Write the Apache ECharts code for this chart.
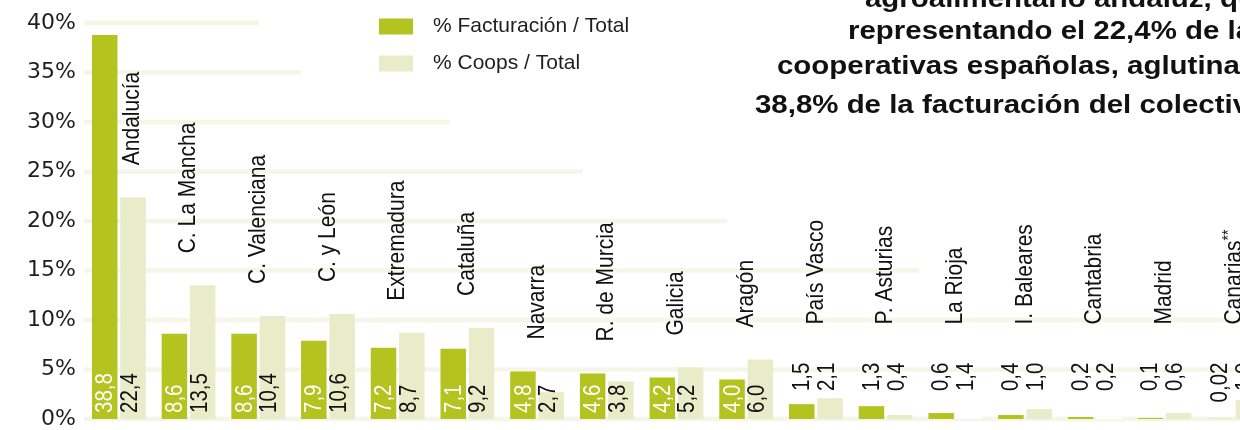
<!DOCTYPE html>
<html>
<head>
<meta charset="utf-8">
<script src="https://cdn.jsdelivr.net/npm/echarts@6/dist/echarts.min.js"></script>
<style>
html,body{margin:0;padding:0;background:#fff;overflow:hidden;width:1240px;height:430px;}
#c{width:1290px;height:430px;}
</style>
</head>
<body>
<div id="c"></div>
<script>
// ---- data ----
const categories = ['Andalucía','C. La Mancha','C. Valenciana','C. y León','Extremadura','Cataluña','Navarra','R. de Murcia','Galicia','Aragón','País Vasco','P. Asturias','La Rioja','I. Baleares','Cantabria','Madrid','Canarias**'];
const facturacion = [38.8,8.6,8.6,7.9,7.2,7.1,4.8,4.6,4.2,4.0,1.5,1.3,0.6,0.4,0.2,0.1,0.02];
const coops = [22.4,13.5,10.4,10.6,8.7,9.2,2.7,3.8,5.2,6.0,2.1,0.4,1.4,1.0,0.2,0.6,1.9];
const yTicks = [0,5,10,15,20,25,30,35,40];
const seriesNames = ['% Facturación / Total','% Coops / Total'];
const noteLines = ['agroalimentario andaluz, que','representando el 22,4% de las','cooperativas españolas, aglutina el','38,8% de la facturación del colectivo.'];

// ---- styling / layout ----
const GREEN = '#b4c31f';
const LIGHT = '#e9ecc9';
const GRIDC = '#f4f6e8';
const FONT = "'Liberation Sans', Arial, Helvetica, sans-serif";
const STRETCH = 1.14;
const GRID_LEFT = 84;

const fmt = v => ((Math.round(v * 10) === v * 10) ? v.toFixed(1) : String(v)).replace('.', ',');

function rotText(x, y, text, align, fill, fs, extra) {
  const style = { text, x: 0, y: 0, align, verticalAlign: 'middle', fill, font: fs + 'px ' + FONT };
  if (extra) Object.assign(style, extra);
  return { type: 'text', x, y, rotation: Math.PI / 2, scaleY: STRETCH, silent: true, style };
}

function renderLabels(params, api) {
  const i = api.value(0), f = api.value(1), c = api.value(2);
  const base = api.coord([i, 0]);
  const cx = base[0], y0 = base[1];
  const yF = api.coord([i, f])[1], yC = api.coord([i, c])[1];
  const children = [];
  let nameBottom, nameX = cx;
  if (f < 2) {
    const yTop = api.coord([i, 5.7])[1];
    children.push(rotText(cx - 13.5, yTop, fmt(f), 'right', '#111', 20.5));
    children.push(rotText(cx + 11.5, yTop, fmt(c), 'right', '#111', 20.5));
    nameBottom = yTop - 38;
  } else {
    children.push(rotText(cx - 13, y0 - 6, fmt(f), 'left', '#fff', 20.5));
    children.push(rotText(cx + 11.5, y0 - 6, fmt(c), 'left', '#111', 20.5));
    const beside = f > c + 10;
    const refY = beside ? yC : Math.min(yF, yC);
    nameBottom = refY - 32;
    if (beside) nameX = cx + 14;
  }
  const name = categories[params.dataIndex];
  if (name.endsWith('**')) {
    children.push(rotText(nameX, nameBottom, '{a|' + name.slice(0, -2) + '}{s|**}', 'left', '#111', 21, {
      rich: { a: { fontSize: 21, fontFamily: FONT, fill: '#111' }, s: { fontSize: 14, fontFamily: FONT, fill: '#111', verticalAlign: 'top', padding: [0, 0, 8, 0] } }
    }));
  } else {
    children.push(rotText(nameX, nameBottom, name, 'left', '#111', 21));
  }
  return { type: 'group', children };
}

const chart = echarts.init(document.getElementById('c'), null, { renderer: 'canvas' });

const option = {
  animation: false,
  backgroundColor: '#fff',
  grid: { left: GRID_LEFT, right: 21, top: 23, bottom: 11, containLabel: false },
  legend: {
    orient: 'vertical',
    left: 374,
    top: 11,
    icon: 'rect',
    itemWidth: 34,
    itemHeight: 16,
    itemGap: 16,
    selectedMode: false,
    data: seriesNames,
    textStyle: { fontFamily: FONT, fontSize: 21, color: '#1e1e1e', padding: [0, 0, 0, 15] }
  },
  xAxis: {
    type: 'category',
    data: categories,
    axisLine: { show: false },
    axisTick: { show: false },
    axisLabel: { show: false },
    splitLine: { show: false }
  },
  yAxis: {
    type: 'value',
    min: yTicks[0],
    max: yTicks[yTicks.length - 1],
    interval: yTicks[1] - yTicks[0],
    axisLine: { show: false },
    axisTick: { show: false },
    splitLine: { show: false },
    axisLabel: {
      formatter: '{value}%',
      fontFamily: "'DejaVu Sans', sans-serif",
      fontSize: 22,
      color: '#1e1e1e',
      margin: 8,
      padding: [4, 0, 0, 0]
    }
  },
  series: [
    {
      name: seriesNames[0],
      type: 'bar',
      data: facturacion,
      barWidth: 25.5,
      barGap: '11%',
      itemStyle: { color: GREEN },
      z: 2
    },
    {
      name: seriesNames[1],
      type: 'bar',
      data: coops.map((v, i) => (i === 12 || i === 14) ? { value: v, itemStyle: { color: '#ffffff' } } : v),
      barWidth: 25.5,
      itemStyle: { color: LIGHT },
      z: 2
    },
    {
      type: 'custom',
      renderItem: renderLabels,
      data: categories.map((c, i) => [i, facturacion[i], coops[i]]),
      encode: { x: 0, y: [1, 2] },
      clip: false,
      silent: true,
      z: 5
    }
  ]
};

chart.setOption(option);

// gridlines (partial, as in the original layout) using the axis scale
const gridEnds = [[0, 1290], [5, 1290], [10, 1290], [15, 919], [20, 727], [25, 583], [30, 450], [35, 301], [40, 259]];
const gLines = gridEnds.map(([v, xe]) => {
  const y = chart.convertToPixel({ yAxisIndex: 0 }, v);
  return { type: 'line', silent: true, z: 0, shape: { x1: GRID_LEFT, y1: y, x2: xe, y2: y }, style: { stroke: GRIDC, lineWidth: 4.5 } };
});
const noteX = [865, 848, 777, 755];
const noteY = [0, 32, 67, 106];
const notes = noteLines.map((t, k) => ({
  type: 'text', silent: true, x: noteX[k], y: noteY[k], scaleX: 1.15, z: 1,
  style: { text: t, x: 0, y: 0, align: 'left', verticalAlign: 'middle', fill: '#111', font: 'bold 25.6px ' + FONT }
}));
chart.setOption({ graphic: { elements: gLines.concat(notes) } });
</script>
</body>
</html>
